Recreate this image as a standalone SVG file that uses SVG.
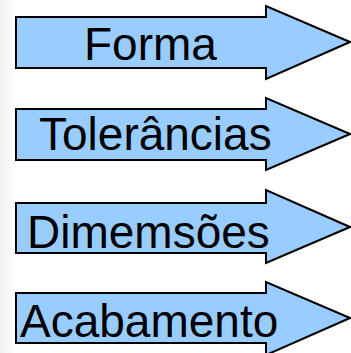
<svg xmlns="http://www.w3.org/2000/svg" width="351" height="353" viewBox="0 0 351 353">
<defs>
<style>
.arrow{fill:#99CCFF;stroke:#000;stroke-width:2;stroke-linejoin:miter}
.lbl{font-family:"Liberation Sans",Arial,sans-serif;font-size:46px;fill:#000}
</style>
<linearGradient id="bg" x1="0" y1="0" x2="1" y2="0">
<stop offset="0" stop-color="#f0f0f0"/>
<stop offset="1" stop-color="#ffffff"/>
</linearGradient>
</defs>
<rect x="0" y="0" width="351" height="353" fill="#fff"/>
<rect x="0" y="0" width="16" height="353" fill="url(#bg)"/>
<g id="connectors"/>
<g id="forma">
<path class="arrow" d="M16,17 H266 V6 L350,42 L266,79 V68 H16 Z"/>
<text class="lbl" x="84" y="60">Forma</text>
</g>
<g id="tolerancias">
<path class="arrow" d="M16,109 H266 V98 L350,134 L266,170 V160 H16 Z"/>
<text class="lbl" x="39" y="150">Tolerâncias</text>
</g>
<g id="dimemsoes">
<path class="arrow" d="M16,203 H266 V190 L350,227 L266,263 V253 H16 Z"/>
<text class="lbl" x="27" y="248">Dimemsões</text>
</g>
<g id="acabamento">
<path class="arrow" d="M16,293 H266 V282 L350,318 L266,355 V343 H16 Z"/>
<text class="lbl" x="20" y="337">Acabamento</text>
</g>
</svg>
